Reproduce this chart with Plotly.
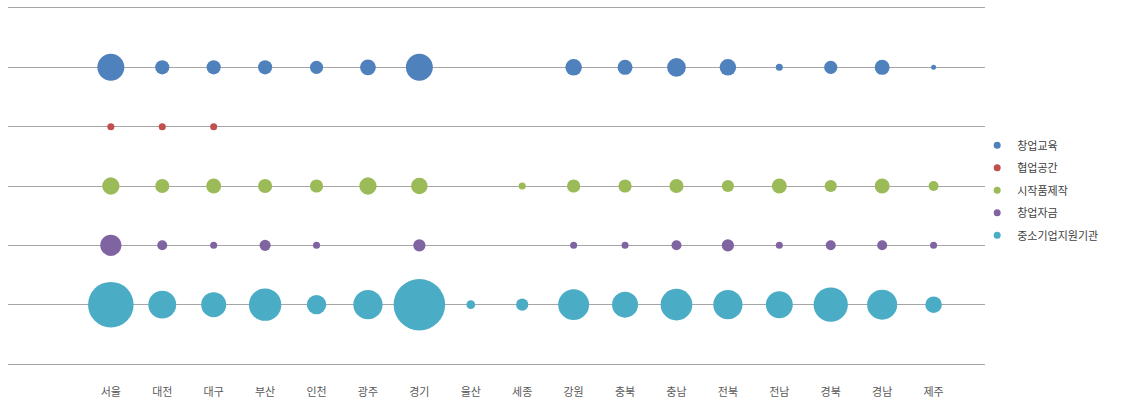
import plotly.graph_objects as go

# Regions along the x axis
regions = ["서울", "대전", "대구", "부산", "인천", "광주", "경기", "울산", "세종",
           "강원", "충북", "충남", "전북", "전남", "경북", "경남", "제주"]

# Counts per region for each support type (None = not present)
edu = [29, 8, 8, 8, 7, 10, 29, None, None, 11, 9, 14, 11, 2, 7, 9, 1]
cowork = [2, 2, 2, None, None, None, None, None, None, None, None, None, None, None, None, None, None]
proto = [12, 8, 9, 8, 7, 12, 11, None, 2, 7, 7, 8, 6, 9, 6, 9, 4]
fund = [18, 4, 2, 5, 2, None, 6, None, None, 2, 2, 4, 6, 2, 4, 4, 2]
sme = [83, 31, 25, 42, 15, 34, 106, 3, 6, 38, 27, 40, 34, 29, 47, 36, 11]

series = [
    ("창업교육", edu, 5, "#4F81BD"),
    ("협업공간", cowork, 4, "#C0504D"),
    ("시작품제작", proto, 3, "#9BBB59"),
    ("창업자금", fund, 2, "#8064A2"),
    ("중소기업지원기관", sme, 1, "#4BACC6"),
]

fig = go.Figure()
for name, vals, row, color in series:
    xs = [r for r, v in zip(regions, vals) if v is not None]
    ss = [v for v in vals if v is not None]
    fig.add_trace(go.Scatter(
        x=xs, y=[row] * len(xs), mode="markers",
        marker=dict(size=ss, sizemode="area", sizeref=2 / 25, color=color,
                    line=dict(width=0), opacity=1),
        name=name, showlegend=False, legendgroup=name,
    ))
    # legend entry with a small fixed dot
    fig.add_trace(go.Scatter(
        x=[None], y=[None], mode="markers",
        marker=dict(size=7, color=color), name=name, legendgroup=name,
    ))

fig.update_layout(
    width=1127, height=400,
    margin=dict(l=8, r=142, t=8, b=36),
    paper_bgcolor="white", plot_bgcolor="white",
    font=dict(family="Noto Sans CJK KR", size=11, color="#595959"),
    showlegend=True,
    legend=dict(x=0.992, xanchor="left", y=0.655, yanchor="top",
                font=dict(size=11, color="#404040"), tracegroupgap=3.5,
                itemwidth=30, bgcolor="rgba(0,0,0,0)"),
    xaxis=dict(type="category", categoryorder="array", categoryarray=regions,
               range=[-2, 17], showgrid=False, zeroline=False, automargin=False,
               showline=True, mirror=True, linecolor="#A6A6A6", linewidth=1,
               ticks="", ticklabelstandoff=18, tickfont=dict(size=11, color="#595959")),
    yaxis=dict(range=[0, 6], tickvals=[1, 2, 3, 4, 5], showticklabels=False,
               showgrid=True, gridcolor="#A6A6A6", gridwidth=1, automargin=False,
               zeroline=False, showline=False, ticks=""),
)

fig.write_html("out.html")
